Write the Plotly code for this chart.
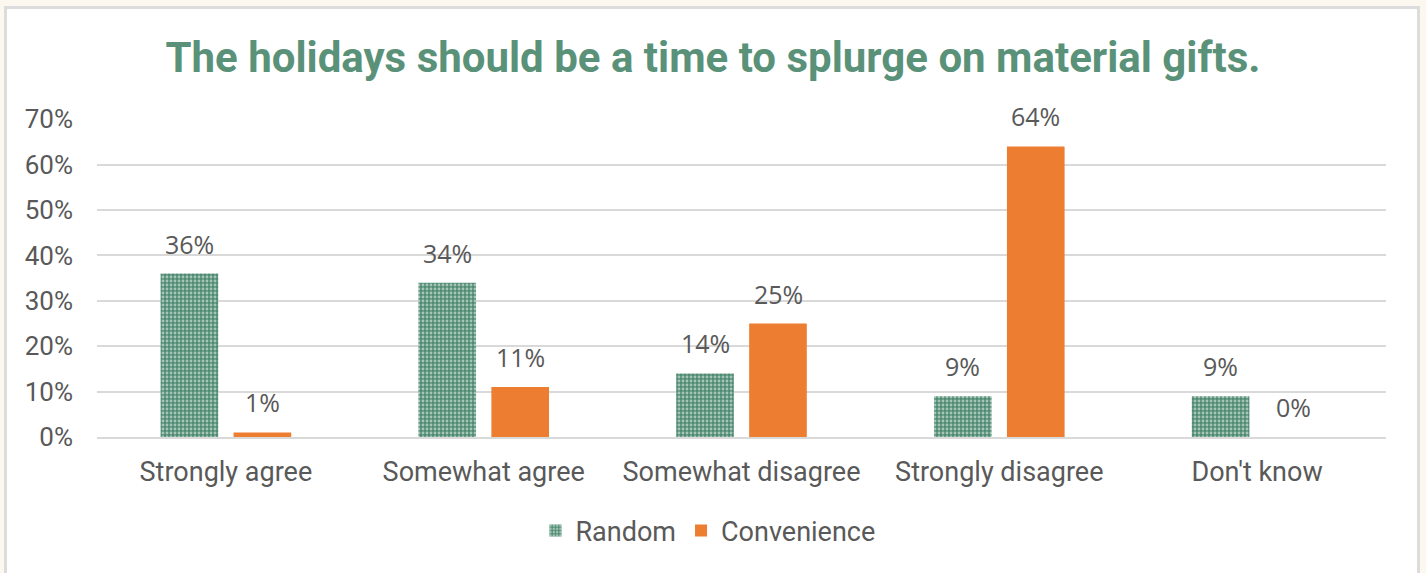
import plotly.graph_objects as go

categories = ["Strongly agree", "Somewhat agree", "Somewhat disagree", "Strongly disagree", "Don't know"]
random_pct = [36, 34, 14, 9, 9]
convenience_pct = [1, 11, 25, 64, 0]
y_ticks = [0, 10, 20, 30, 40, 50, 60, 70]
y_tick_labels = [f"{t}%" for t in y_ticks]

GREEN = "#4f8c72"
TITLE_GREEN = "#5a9179"
ORANGE = "#ed7d31"
GRAY_TXT = "#595959"
GRID = "#d9d9d9"

W, H = 1426, 573
L, R, T, B = 97, 40, 119, 136
plot_w = W - L - R
plot_h = H - T - B

fig = go.Figure()
fig.add_trace(go.Bar(
    x=categories, y=random_pct, name="Random",
    marker=dict(color=GREEN, line=dict(width=0),
                pattern=dict(shape=".", fgcolor="white", bgcolor=GREEN, size=4, solidity=0.4)),
    hoverinfo="skip",
))
fig.add_trace(go.Bar(
    x=categories, y=convenience_pct, name="Convenience",
    marker=dict(color=ORANGE, line=dict(width=0)),
    hoverinfo="skip",
))

# value labels above each bar
offset = 36.5
for vals, dx in ((random_pct, -offset), (convenience_pct, offset)):
    for c, v in zip(categories, vals):
        fig.add_annotation(
            x=c, y=v, text=f"{v}%", showarrow=False,
            xshift=dx, yshift=30, yanchor="middle",
            font=dict(family="Open Sans", size=25, color=GRAY_TXT),
        )

# white card with light border
def px_x(p):
    return (p - L) / plot_w

def px_y(p):
    return (H - B - p) / plot_h

fig.add_shape(
    type="rect", xref="paper", yref="paper",
    x0=px_x(5.5), x1=px_x(1418.5), y0=px_y(590), y1=px_y(7.5),
    fillcolor="white", line=dict(color="#dcdcdc", width=3), layer="below",
)

fig.update_layout(
    width=W, height=H,
    margin=dict(l=L, r=R, t=T, b=B),
    paper_bgcolor="#fcf7ef", plot_bgcolor="rgba(0,0,0,0)",
    barmode="group", bargap=0.434, bargroupgap=0.21,
    title=dict(
        text="The holidays should be a time to splurge on material gifts.",
        x=0.5, xref="container", xanchor="center",
        y=1 - 57 / H, yref="container", yanchor="middle",
        font=dict(family="Roboto", size=42, color=TITLE_GREEN, weight="bold"),
    ),
    xaxis=dict(
        showgrid=False, showline=True, linecolor=GRID, linewidth=2,
        tickfont=dict(family="Roboto", size=27, color=GRAY_TXT),
        ticklabelstandoff=10, fixedrange=True,
    ),
    yaxis=dict(
        range=[0, 70.05], tickvals=y_ticks, ticktext=y_tick_labels,
        showgrid=True, gridcolor=GRID, gridwidth=2, zeroline=False,
        tickfont=dict(family="Roboto", size=26, color=GRAY_TXT),
        ticklabelstandoff=23, fixedrange=True,
    ),
    legend=dict(
        orientation="h", x=0.474, xanchor="center", y=px_y(531), yanchor="middle",
        font=dict(family="Roboto", size=27, color=GRAY_TXT),
        bgcolor="rgba(0,0,0,0)",
        itemclick=False, itemdoubleclick=False,
    ),
    showlegend=True,
)

fig.write_html("out.html", config={"displayModeBar": False})
